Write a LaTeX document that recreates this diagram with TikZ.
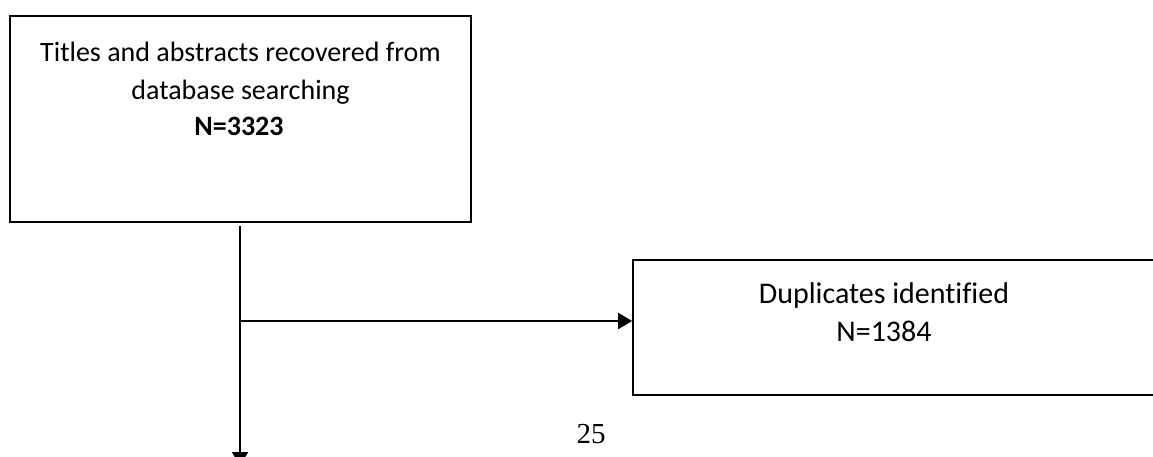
\documentclass[tikz,border=0pt]{standalone}
\usepackage{fontspec}
\setmainfont{Carlito}[Ligatures=CommonOff]
\newfontfamily\tnrfont{Liberation Serif}
\usetikzlibrary{arrows.meta}
\begin{document}
\begin{tikzpicture}[x=1pt,y=-1pt,
  boxstyle/.style={draw=black,line width=1.6pt,rectangle,inner sep=0pt},
  linetext/.style={anchor=base,inner sep=0pt,font=\fontsize{28}{34}\selectfont},
  linetextb/.style={anchor=base,inner sep=0pt,font=\fontsize{30}{36}\selectfont},
  conn/.style={line width=1.8pt,-{Triangle[length=14pt,width=16pt]}}]
\useasboundingbox (0,0) rectangle (1153,457);
% boxes
\node[boxstyle,minimum width=461pt,minimum height=206pt] (b1) at (240.5,119) {};
\node[boxstyle,minimum width=540pt,minimum height=135pt] (b2) at (903,327.5) {};
% texts
\node[linetext] (t1a) at (240.5,62) {Titles and abstracts recovered from};
\node[linetext] (t1b) at (240.5,100) {database searching};
\node[linetext,font=\fontsize{28}{34}\selectfont\bfseries] (t1c) at (239,136) {N=3323};
\node[linetextb] (t2a) at (884,303) {Duplicates identified};
\node[linetextb] (t2b) at (884,341) {N=1384};
\node[anchor=base,inner sep=0pt,font=\tnrfont\fontsize{29}{34}\selectfont] (pg) at (591,443) {25};
% connectors
\coordinate (vs) at (240,226);
\coordinate (ve) at (240,466);
\coordinate (j) at (240,321);
\draw[conn] (vs) -- (ve);
\draw[conn] (j) -- (j -| b2.west);
\end{tikzpicture}
\end{document}
